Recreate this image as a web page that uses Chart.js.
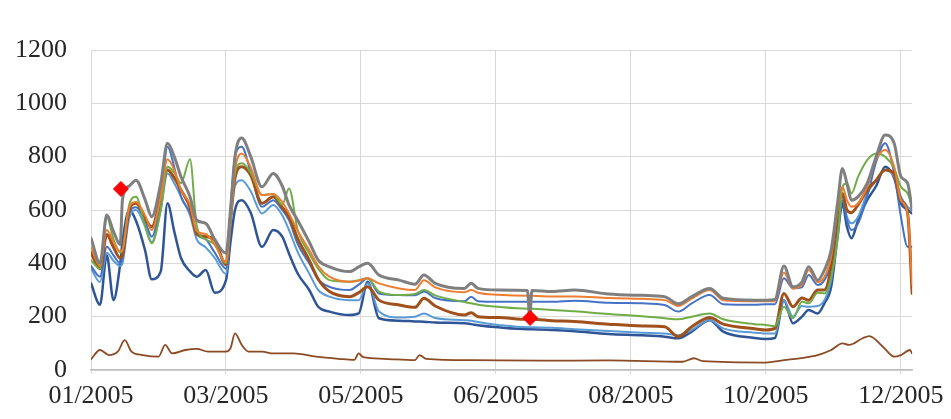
<!DOCTYPE html>
<html><head><meta charset="utf-8">
<script src="https://cdn.jsdelivr.net/npm/chart.js@4.4.0/dist/chart.umd.min.js"></script>
<style>html,body{margin:0;padding:0;background:#fff}#wrap{width:951px;height:419px}</style>
</head><body><div id="wrap"><canvas id="c" width="951" height="419"></canvas></div>
<script>
// Day index from 01/01/2005
const days = [0,4,7,10,13,14,17,20,24,27, 31,34,37,40,44,47,51,55,60,62,
  64,67,71,76,81,85,88,92,97,101, 106,115,119,123,128,137,144,148,153,166,
  169,172,181,194,195,196,205,215,230,245, 255,261,267,275,281,295,300,304,308,312,
  316,319,323,326,329,332,334,336,338,341, 345,349,353,357,360,363,365];

const grayVals = [494,400,581,520,470,640,690,712,640,575, 700,850,800,725,650,562,550,490,438,600,
  800,870,800,687,737,690,619,560,480,412, 387,369,387,400,356,337,322,356,325,306,
  325,306,300,298,195,298,294,300,285,280, 275,248,275,306,269,262,262,265,390,312,
  330,387,337,375,450,637,756,700,637,650, 700,800,881,850,725,700,600];

const orangeVals = [460,390,525,480,445,450,610,630,580,525, 650,790,750,675,620,520,510,470,405,560,
  750,812,760,656,660,630,587,520,450,390, 350,331,335,344,325,306,300,337,310,292,
  300,290,282,278,278,278,276,276,270,267, 262,240,268,300,262,258,258,258,366,306,
  320,375,330,350,425,612,687,637,612,625, 687,790,825,762,637,587,320];

const greenVals = [412,380,575,490,440,450,620,650,540,475, 600,762,740,700,790,540,490,470,400,560,
  740,775,740,656,660,620,681,520,437,380, 337,331,337,344,294,281,285,300,280,255,
  250,245,237,230,230,230,225,220,210,202, 194,190,200,212,190,172,169,165,237,194,
  256,250,290,287,350,500,687,700,662,725, 787,812,800,756,687,662,612];

const blueVals = [390,350,462,430,400,420,590,610,560,500, 640,837,760,650,590,510,490,440,380,600,
  800,837,740,612,637,600,562,470,400,340, 312,300,320,344,287,281,280,294,270,258,
  275,258,256,256,256,256,256,260,252,250, 244,219,250,281,247,245,247,247,344,306,
  310,356,319,337,400,562,637,562,525,550, 650,780,850,737,575,462,462];

const brownVals = [440,380,508,460,420,430,600,625,570,537, 650,750,720,675,610,510,500,487,395,570,
  720,762,730,625,650,610,575,490,412,340, 294,275,290,312,262,244,235,269,240,206,
  215,200,197,190,190,190,185,182,172,165, 162,125,162,197,172,155,150,156,287,237,
  270,262,300,300,387,587,662,600,590,620, 675,712,750,737,637,587,287];

const lightBlueVals = [380,330,440,410,390,400,570,600,540,480, 600,737,700,650,580,490,460,420,360,540,
  690,712,670,587,619,580,525,440,362,300, 275,262,262,325,219,197,200,212,195,187,
  185,180,169,160,160,160,158,153,146,140, 137,130,150,187,156,140,137,137,262,200,
  240,237,240,262,337,525,650,575,550,575, 662,712,750,725,650,612,600];

const navyVals = [325,245,430,262,400,480,600,560,450,340, 370,625,520,420,370,350,375,290,337,480,
  600,637,590,462,525,500,437,360,300,237, 219,206,212,331,194,185,182,181,178,175,
  172,168,160,153,153,153,150,145,135,130, 125,119,144,187,144,120,116,120,262,175,
  200,225,212,250,312,512,625,537,494,562, 637,690,762,720,625,600,587];

const lowDays = [0,4,8,12,15,18,23,30,33,36, 42,47,52,60,62,64,67,70,76,81,
  90,100,110,117,119,121,130,144,146,149, 170,200,230,263,268,272,300,308,315,323,
  329,334,337,343,346,352,357,360,364,365];
const lowVals = [40,75,56,70,112,69,56,50,94,62, 75,79,69,69,81,137,94,69,69,62,
  62,50,42,38,62,48,42,37,56,42, 37,35,36,31,44,33,28,37,44,56,
  75,100,94,119,127,87,50,56,75,62];

const markerDays = [13.3, 195.2];
const markerVals = [679, 195];

const tickDays = [0,60,120,180,240,300,360];
const tickLabels = ['01/2005','03/2005','05/2005','06/2005','08/2005','10/2005','12/2005'];
const yTicks = [0,200,400,600,800,1000,1200];

const pts = (xs, ys) => xs.map((d,i) => ({x:d, y:ys[i]}));
const line = (vals, color, w) => ({data: pts(days, vals), borderColor: color, backgroundColor: color, borderWidth: w, pointRadius: 0, fill: false});

const FONT = {family: "'Liberation Serif', 'Times New Roman', serif", size: 26};

new Chart(document.getElementById('c').getContext('2d'), {
  type: 'line',
  data: {datasets: [
    {data: pts(markerDays, markerVals), showLine: false, pointStyle: 'rectRot', pointRadius: 7.5, borderWidth: 1,
     backgroundColor: '#ff0000', borderColor: '#ff0000'},
    line(grayVals, '#7f7f7f', 3),
    line(orangeVals, '#ED7D31', 2),
    line(greenVals, '#70AD47', 2),
    line(brownVals, '#A0501A', 3),
    line(blueVals, '#4472C4', 2),
    line(lightBlueVals, '#5B9BD5', 2),
    line(navyVals, '#2F5597', 2.5),
    {data: pts(lowDays, lowVals), borderColor: '#8B4A22', borderWidth: 1.8, pointRadius: 0, fill: false}
  ]},
  options: {
    responsive: false, animation: false, devicePixelRatio: 1,
    layout: {padding: {left: 15, top: 50, right: 35, bottom: 0}},
    plugins: {legend: {display: false}, tooltip: {enabled: false}},
    elements: {line: {cubicInterpolationMode: 'monotone', borderJoinStyle: 'round', borderCapStyle: 'round'}},
    scales: {
      x: {
        type: 'linear', min: 0, max: 365,
        afterBuildTicks: s => { s.ticks = tickDays.map(v => ({value: v})); },
        afterFit: s => { s.height = 49; },
        ticks: {autoSkip: false, maxRotation: 0, minRotation: 0, padding: 7, font: FONT, color: '#262626',
          callback: v => { const i = tickDays.indexOf(v); return i >= 0 ? tickLabels[i] : ''; }},
        grid: {color: '#d9d9d9', lineWidth: 1, tickLength: 4, drawTicks: true},
        border: {color: '#bfbfbf', width: 1.5}
      },
      y: {
        min: 0, max: 1200,
        afterBuildTicks: s => { s.ticks = yTicks.map(v => ({value: v})); },
        afterFit: s => { s.width = 76; },
        ticks: {padding: 24, font: FONT, color: '#262626', callback: v => String(v)},
        grid: {color: '#d9d9d9', lineWidth: 1, drawTicks: false},
        border: {display: false}
      }
    }
  }
});
</script></body></html>
